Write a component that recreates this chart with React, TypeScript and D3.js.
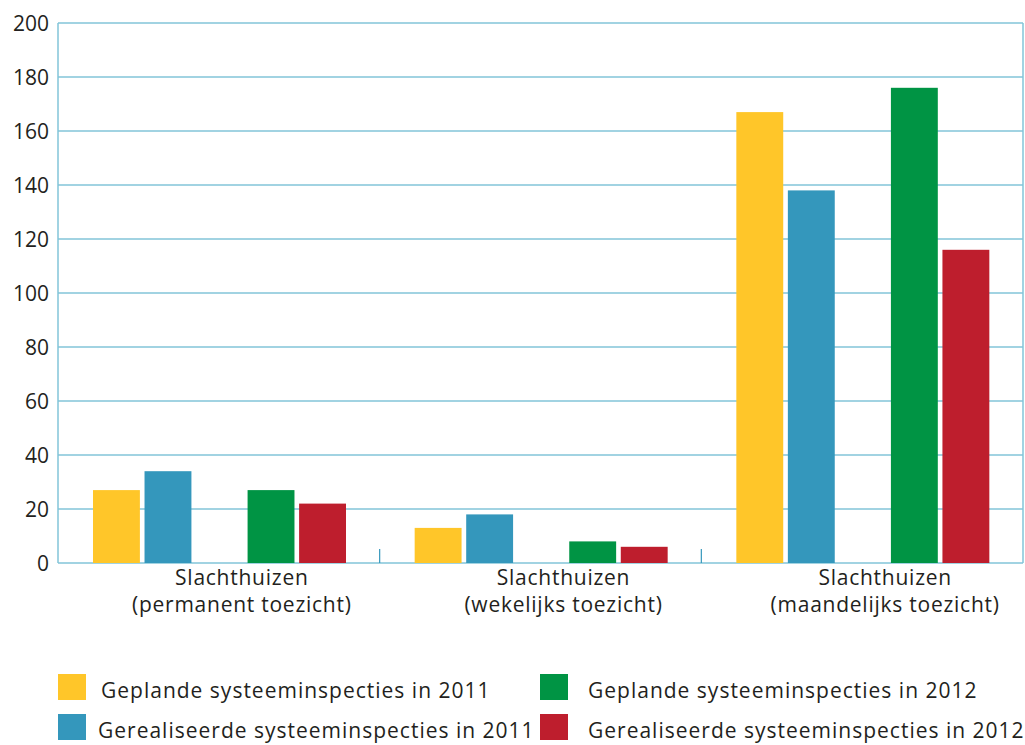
import React from "react";
import * as d3 from "d3";

const width = 1025;
const height = 745;

// data
const categories = ["permanent toezicht", "wekelijks toezicht", "maandelijks toezicht"];
const gepland2011 = [27, 13, 167];
const gerealiseerd2011 = [34, 18, 138];
const gepland2012 = [27, 8, 176];
const gerealiseerd2012 = [22, 6, 116];
const yTicks = [0, 20, 40, 60, 80, 100, 120, 140, 160, 180, 200];

const seriesNames = [
  "Geplande systeeminspecties in 2011",
  "Gerealiseerde systeeminspecties in 2011",
  "Geplande systeeminspecties in 2012",
  "Gerealiseerde systeeminspecties in 2012",
];
const colors = ["#ffc629", "#3497bc", "#009444", "#be1e2d"];
const seriesKeys = ["g11", "r11", "gap", "g12", "r12"];

const gridColor = "#82c4d9";
const font = "'Open Sans', sans-serif";

const App = () => {
  const margin = { left: 58, right: 2, top: 23, bottom: 183 };

  const x0 = d3
    .scaleBand()
    .domain(categories)
    .range([margin.left, width - margin.right]);

  // inner slots: 2011 pair, empty slot, 2012 pair
  const x1 = d3
    .scaleBand()
    .domain(seriesKeys)
    .range([35, 288])
    .paddingInner(0.09);

  const y = d3
    .scaleLinear()
    .domain([0, 200])
    .range([height - margin.bottom + 1, margin.top]);

  const series = [
    { key: "g11", values: gepland2011, color: colors[0] },
    { key: "r11", values: gerealiseerd2011, color: colors[1] },
    { key: "g12", values: gepland2012, color: colors[2] },
    { key: "r12", values: gerealiseerd2012, color: colors[3] },
  ];

  // legend layout: two columns, two rows
  const legend = [
    { name: seriesNames[0], color: colors[0], x: 58, y: 674, tx: 101 },
    { name: seriesNames[1], color: colors[1], x: 58, y: 714, tx: 98 },
    { name: seriesNames[2], color: colors[2], x: 540, y: 674, tx: 588 },
    { name: seriesNames[3], color: colors[3], x: 540, y: 714, tx: 588 },
  ];

  const x0Right = width - margin.right;

  return (
    <svg
      width={width}
      height={height}
      style={{ position: "absolute", left: 0, top: 0, background: "#fff", fontVariantLigatures: "none" }}
      fontFamily={font}
    >
      {/* gridlines */}
      {yTicks.map((t) => (
        <line
          key={"g" + t}
          x1={margin.left}
          x2={x0Right}
          y1={y(t)}
          y2={y(t)}
          stroke={gridColor}
          strokeWidth={1.5}
        />
      ))}
      {/* y axis line + right border */}
      <line x1={margin.left} x2={margin.left} y1={y(200)} y2={y(0)} stroke={gridColor} strokeWidth={1.5} />
      <line x1={x0Right} x2={x0Right} y1={y(200)} y2={y(0)} stroke={gridColor} strokeWidth={1.5} />

      {/* category separators */}
      {categories.slice(1).map((c) => (
        <line
          key={"t" + c}
          x1={x0(c)!}
          x2={x0(c)!}
          y1={y(0)}
          y2={y(0) - 14}
          stroke="#3497bc"
          strokeWidth={1.2}
        />
      ))}

      {/* y tick labels */}
      {yTicks.map((t) => (
        <text
          key={"l" + t}
          x={49}
          y={y(t)}
          dy="0.36em"
          textAnchor="end"
          fontSize={21}
          fill="#231f20"
        >
          {t}
        </text>
      ))}

      {/* bars */}
      {categories.map((c, i) => (
        <g key={c} transform={`translate(${x0(c)},0)`}>
          {series.map((s) => (
            <rect
              key={s.key}
              x={x1(s.key)!}
              width={x1.bandwidth()}
              y={y(s.values[i])}
              height={y(0) - y(s.values[i])}
              fill={s.color}
            />
          ))}
        </g>
      ))}

      {/* category labels */}
      {categories.map((c) => {
        const cx = x0(c)! + x0.bandwidth() / 2 + 23;
        return (
          <text key={"c" + c} textAnchor="middle" fontSize={21} letterSpacing={0.75} fill="#231f20">
            <tspan x={cx} y={585}>Slachthuizen</tspan>
            <tspan x={cx} y={612}>({c})</tspan>
          </text>
        );
      })}

      {/* legend */}
      {legend.map((l) => (
        <g key={l.name}>
          <rect x={l.x} y={l.y} width={28} height={26} fill={l.color} />
          <text x={l.tx} y={l.y + 24} fontSize={21} letterSpacing={1} fill="#231f20">
            {l.name}
          </text>
        </g>
      ))}
    </svg>
  );
};

export default App;
